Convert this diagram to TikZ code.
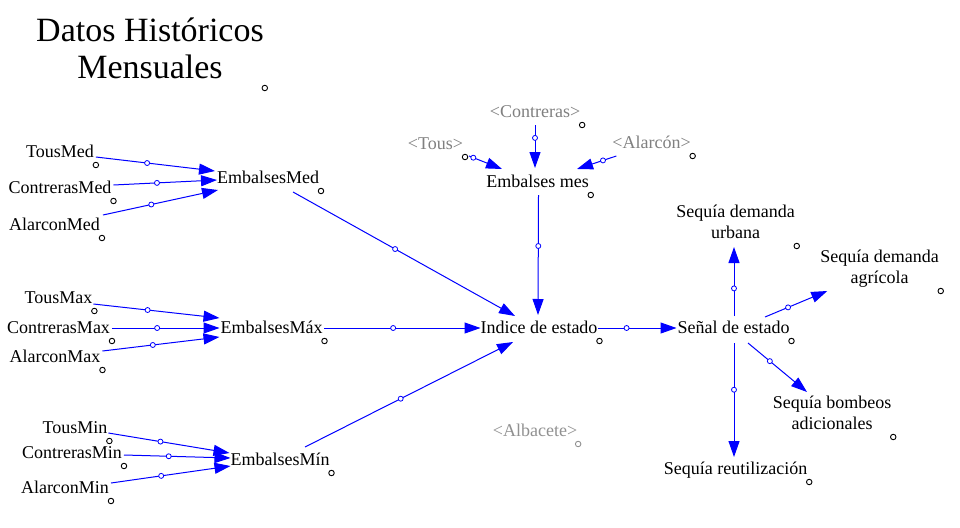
\documentclass[tikz,border=0pt]{standalone}
\usepackage{fontspec}
\setmainfont{Liberation Serif}
\newfontfamily\vfont{Liberation Serif}
\usetikzlibrary{arrows.meta,calc}
\definecolor{vblue}{RGB}{0,0,255}
\definecolor{shadowgray}{RGB}{128,128,128}
\definecolor{lightgray2}{RGB}{145,145,145}
\tikzset{
  lbl/.style={inner sep=0pt, outer sep=0pt, font=\vfont\fontsize{18}{20.5}\selectfont, anchor=base, align=center},
  shadowlbl/.style={lbl, text=shadowgray},
  arr/.style={draw=vblue, line width=1pt, -{Triangle[length=16pt,width=11pt]}},
  hdl/.style={circle, draw=vblue, fill=white, inner sep=0pt, minimum size=5pt, line width=0.8pt},
  dotmk/.style={circle, draw=black, fill=white, inner sep=0pt, minimum size=5.5pt, line width=0.9pt},
}
\begin{document}
\begin{tikzpicture}[x=1pt,y=-1pt]
\useasboundingbox (0,0) rectangle (960,527);
\fill[white] (0,0) rectangle (960,527);

% title (base anchor = baseline of last line)
\node[lbl, font=\vfont\fontsize{34}{37}\selectfont] (title) at (150,78) {Datos Históricos\\Mensuales};

% Med group
\node[lbl] (tousmed) at (60,157) {TousMed};
\node[lbl] (contmed) at (60,193) {ContrerasMed};
\node[lbl] (alarmed) at (54.5,230) {AlarconMed};
\node[lbl] (embmed) at (268,183) {EmbalsesMed};
% Max group
\node[lbl] (tousmax) at (58.5,303) {TousMax};
\node[lbl] (contmax) at (58.5,333) {ContrerasMax};
\node[lbl] (alarmax) at (55,362) {AlarconMax};
\node[lbl] (embmax) at (271.5,333) {EmbalsesMáx};
% Min group
\node[lbl] (tousmin) at (75,433) {TousMin};
\node[lbl] (contmin) at (72,458) {ContrerasMin};
\node[lbl] (alarmin) at (65,493) {AlarconMin};
\node[lbl] (embmin) at (280,465) {EmbalsesMín};
% centre
\node[shadowlbl] (contreras) at (535,117) {<Contreras>};
\node[shadowlbl] (tous) at (435.5,149) {<Tous>};
\node[shadowlbl] (alarcon) at (651.5,148) {<Alarcón>};
\node[lbl] (embmes) at (537.5,187) {Embalses mes};
\node[lbl] (indice) at (539,333) {Indice de estado};
\node[lbl] (senal) at (733.5,333) {Señal de estado};
\node[lbl, text=lightgray2] (albacete) at (535,436) {<Albacete>};
% right
\node[lbl] (urbana) at (735.5,238) {Sequía demanda\\urbana};
\node[lbl] (agricola) at (879.5,283) {Sequía demanda\\agrícola};
\node[lbl] (bombeos) at (832,429) {Sequía bombeos\\adicionales};
\node[lbl] (reutil) at (735.5,474) {Sequía reutilización};

% markers
\node[dotmk] at ($(title.base east)+(1,10)$) {};
\foreach \n in {tousmed,contmed,alarmed,embmed,tousmax,contmax,alarmax,embmax,tousmin,contmin,alarmin,embmin,contreras,tous,alarcon,embmes,indice,senal,reutil,urbana,bombeos}
  \node[dotmk] at ($(\n.base east)+(2,8)$) {};
\node[dotmk] at ($(agricola.base east)+(2,8)$) {};
\node[dotmk, draw=lightgray2] at ($(albacete.base east)+(1,8)$) {};

% Med connectors
\draw[arr] ($(tousmed.base east)+(2,0)$) -- node[hdl,pos=0.43]{} ($(embmed.base west)+(-2,-12)$);
\draw[arr] ($(contmed.base east)+(2,-8)$) -- node[hdl,pos=0.42]{} ($(embmed.base west)+(0,-3)$);
\draw[arr] ($(alarmed.base east)+(3,-15)$) -- node[hdl,pos=0.42]{} ($(embmed.base west)+(1,7)$);
% Max connectors
\draw[arr] ($(tousmax.base east)+(1,1)$) -- node[hdl,pos=0.43]{} ($(embmax.base west)+(-1,-15)$);
\draw[arr] ($(contmax.base east)+(2,-5)$) -- node[hdl,pos=0.42]{} ($(embmax.base west)+(-1,-5)$);
\draw[arr] ($(alarmax.base east)+(2,-11)$) -- node[hdl,pos=0.43]{} ($(embmax.base west)+(-1,4)$);
% Min connectors
\draw[arr] ($(tousmin.base east)+(1,0)$) -- node[hdl,pos=0.43]{} ($(embmin.base west)+(-1,-12)$);
\draw[arr] ($(contmin.base east)+(2,-3)$) -- node[hdl,pos=0.42]{} ($(embmin.base west)+(0,-7)$);
\draw[arr] ($(alarmin.base east)+(2,-10)$) -- node[hdl,pos=0.42]{} ($(embmin.base west)+(0,1)$);

% to Indice
\draw[arr] ($(embmed.base)+(25,9)$) -- node[hdl,pos=0.46]{} ($(indice.base)+(-24,-17)$);
\draw[arr] ($(embmax.base east)+(2,-5)$) -- node[hdl,pos=0.44]{} ($(indice.base west)+(0,-5)$);
\draw[arr] ($(embmin.base)+(25,-18)$) -- node[hdl,pos=0.46]{} ($(indice.base)+(-26,9)$);
\draw[arr] ($(embmes.base)+(1,8)$) -- node[hdl,pos=0.425]{} ($(indice.base)+(-1,-18)$);

% to Embalses mes
\draw[arr] ($(contreras.base)+(0,8)$) -- node[hdl,pos=0.3]{} ($(embmes.base)+(-2.5,-19)$);
\draw[arr] ($(tous.base east)+(6,7)$) -- node[hdl,pos=0.13]{} ($(embmes.base)+(-35.5,-18)$);
\draw[arr] ($(alarcon.base west)+(4,8)$) -- node[hdl,pos=0.34]{} ($(embmes.base)+(39.5,-18)$);

% Indice -> Senal
\draw[arr] ($(indice.base east)+(1,-5)$) -- node[hdl,pos=0.36]{} ($(senal.base west)+(-1,-5)$);

% from Senal
\draw[arr] ($(senal.base)+(0.5,-17)$) -- node[hdl,pos=0.4]{} ($(urbana.base)+(-1.5,9)$);
\draw[arr] ($(senal.base)+(31.5,-16)$) -- node[hdl,pos=0.37]{} ($(agricola.base west)+(7,8)$);
\draw[arr] ($(senal.base)+(14.5,10)$) -- node[hdl,pos=0.37]{} ($(bombeos.base)+(-25,-37)$);
\draw[arr] ($(senal.base)+(0.5,10)$) -- node[hdl,pos=0.41]{} ($(reutil.base)+(-1.5,-17)$);
\end{tikzpicture}
\end{document}
